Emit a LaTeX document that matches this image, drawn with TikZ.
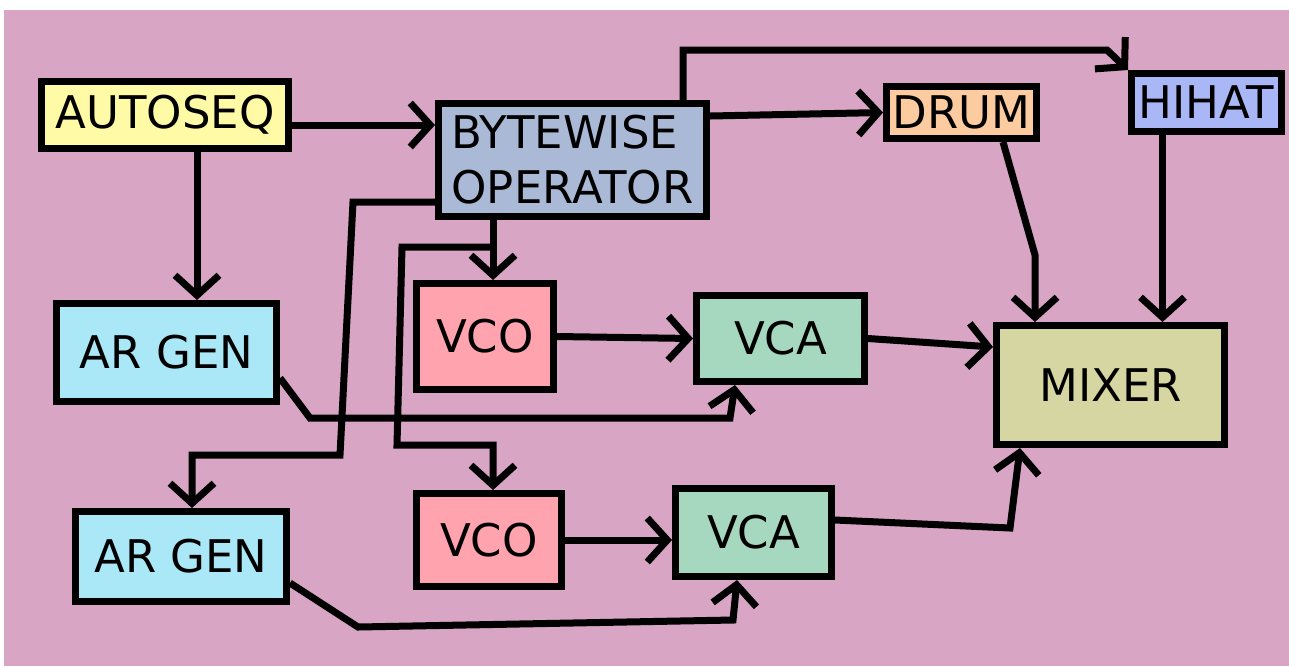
\documentclass[tikz,border=0pt]{standalone}
\usepackage{fontspec}
\setmainfont{DejaVu Sans}
\usetikzlibrary{arrows.meta}
\definecolor{bgpink}{HTML}{D8A5C5}
\definecolor{cyellow}{HTML}{FFFAA5}
\definecolor{cbyte}{HTML}{A9B9D6}
\definecolor{cdrum}{HTML}{FDCBA0}
\definecolor{chihat}{HTML}{A9B7F6}
\definecolor{car}{HTML}{AAE8F8}
\definecolor{cvco}{HTML}{FFA3AE}
\definecolor{cvca}{HTML}{A6D8C0}
\definecolor{cmix}{HTML}{D6D6A2}
\begin{document}
\begin{tikzpicture}[x=0.5pt,y=-0.5pt,
  box/.style={draw=black, line width=3.5pt, inner sep=0pt, font=\fontsize{22.5}{27.5}\selectfont, align=center},
  arr/.style={line width=3.5pt, -{Straight Barb[length=10pt,width=22pt]}}]
\useasboundingbox (0,0) rectangle (1289,666);
\fill[white] (0,0) rectangle (1289,666);
\fill[bgpink] (4,10) rectangle (1289,666);

\node[box, fill=cyellow, minimum width=123.5pt, minimum height=33.5pt] (auto) at (165,115) {AUTOSEQ};
\node[box, fill=cbyte, minimum width=134pt, minimum height=56.5pt, align=left] (byte) at (572.5,160) {BYTEWISE\\OPERATOR};
\node[box, fill=cdrum, minimum width=75pt, minimum height=26pt] (drum) at (961.5,112.5) {DRUM};
\node[box, fill=chihat, minimum width=75pt, minimum height=29pt] (hihat) at (1206.5,102.5) {HIHAT};
\node[box, fill=car, minimum width=110pt, minimum height=49pt] (ar1) at (166.5,352.5) {AR GEN};
\node[box, fill=car, minimum width=105.5pt, minimum height=45pt] (ar2) at (181,556.5) {AR GEN};
\node[box, fill=cvco, minimum width=68.5pt, minimum height=53pt] (vco1) at (485,336.5) {VCO};
\node[box, fill=cvca, minimum width=84pt, minimum height=43pt] (vca1) at (780.5,338.5) {VCA};
\node[box, fill=cvco, minimum width=72.5pt, minimum height=46.5pt] (vco2) at (489,540) {VCO};
\node[box, fill=cvca, minimum width=78pt, minimum height=44pt] (vca2) at (753.5,532.5) {VCA};
\node[box, fill=cmix, minimum width=114pt, minimum height=59.5pt] (mixer) at (1110.5,385) {MIXER};

\coordinate (hk) at (1107,50);
\coordinate (dk) at (1035,255);
\coordinate (b1) at (353,202);
\coordinate (b2) at (340,455);
\coordinate (br) at (493,247);
\coordinate (br1) at (402,247);
\coordinate (br2) at (397,445);
\coordinate (a1) at (310,418);
\coordinate (a2) at (730,418);
\coordinate (c1) at (358,627);
\coordinate (c2) at (733,620);
\coordinate (m1) at (1010,528);

\draw[arr] ([yshift=-5pt]auto.east) -- ([yshift=-5pt]auto.east -| byte.west);
\draw[arr] ([xshift=16pt]auto.south) -- ([xshift=15.25pt]ar1.north);
\draw[arr] ([yshift=22pt]byte.east) -- (drum.west);
\draw[arr] ([xshift=55.25pt]byte.north) |- (hk) -- (hihat.north west);
\draw[arr] ([xshift=20.75pt]drum.south) -- (dk) -- (mixer.north -| dk);
\draw[arr] ([xshift=-22pt]hihat.south) -- ([xshift=-22pt]hihat.south |- mixer.north);
\draw[arr] ([xshift=4pt]vco1.north |- byte.south) -- ([xshift=4pt]vco1.north);
\draw[arr] ([yshift=-21pt]byte.west) -- (b1) -- (b2) -| ([xshift=5.5pt]ar2.north);
\draw[arr] (br) -- (br1) -- (br2) -| ([xshift=2pt]vco2.north);
\draw[arr] ([yshift=-12.75pt]ar1.east) -- (a1) -- (a2) -- ([xshift=-22.75pt]vca1.south);
\draw[arr] ([yshift=-13.25pt]ar2.east) -- (c1) -- (c2) -- ([xshift=-8.25pt]vca2.south);
\draw[arr] (vco1.east) -- (vca1.west);
\draw[arr] (vco2.east) -- (vco2.east -| vca2.west);
\draw[arr] (vca1.east) -- ([yshift=19pt]mixer.west);
\draw[arr] ([yshift=6.25pt]vca2.east) -- (m1) -- ([xshift=-45.25pt]mixer.south);
\end{tikzpicture}
\end{document}
